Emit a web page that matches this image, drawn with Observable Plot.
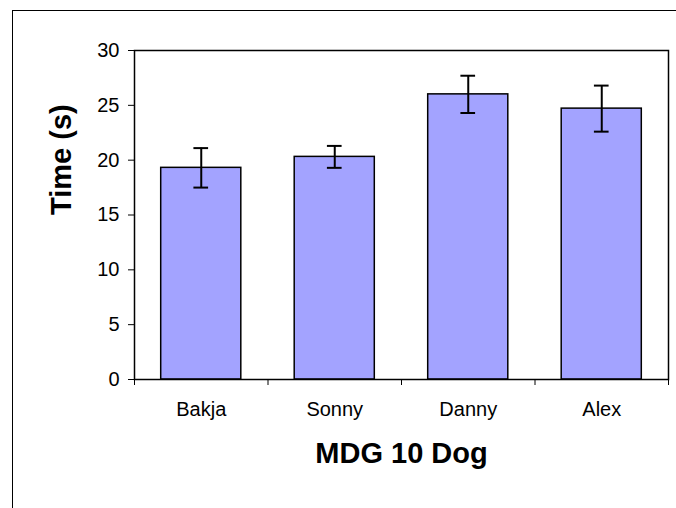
<!DOCTYPE html>
<html>
<head>
<meta charset="utf-8">
<script src="https://cdn.jsdelivr.net/npm/d3@7"></script>
<script src="https://cdn.jsdelivr.net/npm/@observablehq/plot@0.6"></script>
<style>
  html, body { margin: 0; padding: 0; background: #fff; }
  #wrap { position: relative; width: 676px; height: 508px; overflow: hidden; }
  #border { position: absolute; left: 12px; top: 10px; width: 700px; height: 600px; border: 1.5px solid #000; pointer-events: none; }
  svg { font-family: "Liberation Sans", Arial, sans-serif; }
</style>
</head>
<body>
<div id="wrap"><div id="border"></div><div id="chart"></div></div>
<script>
const dogs = ["Bakja", "Sonny", "Danny", "Alex"];
const times = [19.3, 20.3, 26.0, 24.7];
const errors = [1.8, 1.0, 1.7, 2.1];
const yTicks = [0, 5, 10, 15, 20, 25, 30];

const data = dogs.map((d, i) => ({dog: d, i, time: times[i], err: errors[i]}));

const chart = Plot.plot({
  width: 676,
  height: 508,
  marginLeft: 134,
  marginTop: 50,
  marginRight: 8,
  marginBottom: 129,
  style: {fontSize: "20px", fontFamily: "'Liberation Sans', Arial, sans-serif", color: "#000", background: "transparent"},
  x: {domain: [0, dogs.length], label: null},
  y: {domain: [0, 30], label: null},
  marks: [
    Plot.rectY(data, {x1: d => d.i + 0.2, x2: d => d.i + 0.8, y: "time", fill: "#a3a3ff", stroke: "#000", strokeWidth: 1.5}),
    Plot.ruleX(data, {x: d => d.i + 0.5, y1: d => d.time - d.err, y2: d => d.time + d.err, stroke: "#000", strokeWidth: 2}),
    Plot.ruleY(data, {y: d => d.time + d.err, x1: d => d.i + 0.445, x2: d => d.i + 0.555, stroke: "#000", strokeWidth: 2}),
    Plot.ruleY(data, {y: d => d.time - d.err, x1: d => d.i + 0.445, x2: d => d.i + 0.555, stroke: "#000", strokeWidth: 2}),
    Plot.frame({stroke: "#000", strokeWidth: 1.5}),
    Plot.axisY({ticks: yTicks, tickSize: 6, tickPadding: 9, fontSize: 20, label: null}),
    Plot.axisX({ticks: d3.range(dogs.length + 1), tickSize: 6, tickFormat: () => "", label: null}),
    Plot.axisX({ticks: dogs.map((d, i) => i + 0.5), tickSize: 0, tickPadding: 22, tickFormat: (v) => dogs[Math.floor(v)], fontSize: 20, label: null}),
    Plot.text(["Time (s)"], {frameAnchor: "left", rotate: -90, dx: -73, fontSize: 29, fontWeight: "bold"}),
    Plot.text(["MDG 10 Dog"], {frameAnchor: "bottom", dy: 83, fontSize: 29, fontWeight: "bold"})
  ]
});
document.getElementById("chart").appendChild(chart);
</script>
</body>
</html>
